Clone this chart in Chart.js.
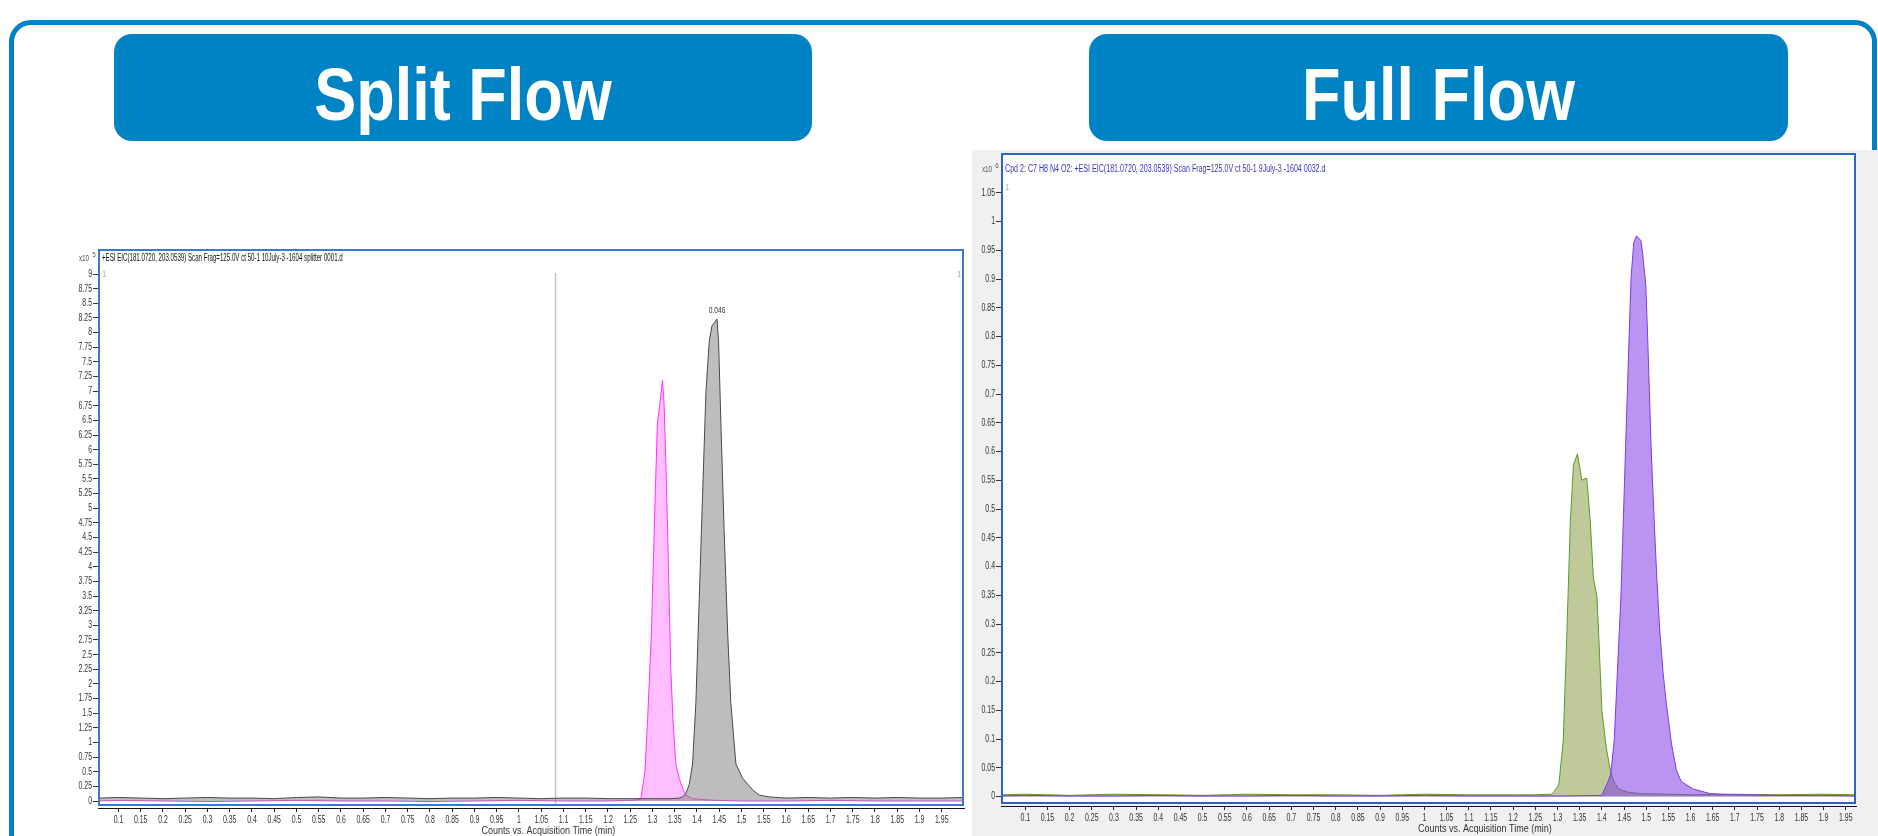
<!DOCTYPE html>
<html>
<head>
<meta charset="utf-8">
<script src="https://cdn.jsdelivr.net/npm/chart.js@4.4.1/dist/chart.umd.min.js"></script>
<style>
  html, body { margin: 0; padding: 0; background: #ffffff; }
  body { width: 1878px; height: 836px; position: relative; overflow: hidden;
         font-family: "Liberation Sans", Arial, sans-serif; }
  .outer { position: absolute; left: 9px; top: 20px; width: 1858px; height: 900px;
           border: 5px solid #0083c4; border-radius: 22px; }
  .hdr { position: absolute; top: 34px; height: 107px; background: #0083c4; border-radius: 18px; }
  .hdr span { position: absolute; left: 0; right: 0; top: 23px; line-height: 75px; font-size: 75px;
              font-weight: bold; color: #ffffff; text-align: center; transform: scaleX(0.84); }
  .panel { position: absolute; left: 972px; top: 150px; width: 906px; height: 686px; background: #f0f0f0; }
  canvas { position: absolute; }
</style>
</head>
<body>
<div class="outer"></div>
<div class="hdr" style="left:114px;width:698px;"><span>Split Flow</span></div>
<div class="hdr" style="left:1089px;width:699px;"><span>Full Flow</span></div>
<div class="panel"></div>
<canvas id="splitChart" width="930" height="596" style="left:40px;top:240px;"></canvas>
<canvas id="fullChart" width="916" height="692" style="left:946px;top:144px;"></canvas>
<script>
// ---- Acquisition time axis (min) ----
const timeTickLabels = ['0.1','0.15','0.2','0.25','0.3','0.35','0.4','0.45','0.5','0.55','0.6','0.65',
  '0.7','0.75','0.8','0.85','0.9','0.95','1','1.05','1.1','1.15','1.2','1.25','1.3','1.35','1.4','1.45',
  '1.5','1.55','1.6','1.65','1.7','1.75','1.8','1.85','1.9','1.95'];

// ---- Split flow run: counts x10^5 ----
const splitYTickLabels = ['0','0.25','0.5','0.75','1','1.25','1.5','1.75','2','2.25','2.5','2.75','3',
  '3.25','3.5','3.75','4','4.25','4.5','4.75','5','5.25','5.5','5.75','6','6.25','6.5','6.75','7','7.25',
  '7.5','7.75','8','8.25','8.5','8.75','9'];

const splitGrayTime = [0.054,0.1,0.15,0.2,0.25,0.3,0.35,0.4,0.45,0.5,0.55,0.6,0.65,0.7,0.75,0.8,0.85,0.9,
  0.95,1.0,1.05,1.1,1.15,1.2,1.25,1.3,1.34,1.36,1.3675,1.375,1.3825,1.39,1.3975,1.405,1.4125,1.42,1.4275,
  1.4335,1.445,1.4485,1.454,1.461,1.469,1.476,1.4875,1.5025,1.525,1.54,1.5625,1.6,1.65,1.7,1.75,1.8,1.85,
  1.9,1.95,2.0];
const splitGrayCounts = [0.05,0.06,0.05,0.04,0.05,0.06,0.05,0.05,0.04,0.06,0.07,0.05,0.05,0.06,0.05,0.04,
  0.05,0.05,0.06,0.05,0.04,0.05,0.05,0.04,0.04,0.04,0.04,0.05,0.07,0.13,0.28,0.63,1.68,3.44,5.21,6.97,7.85,
  8.11,8.23,7.85,6.38,4.62,2.86,1.68,0.63,0.39,0.19,0.10,0.07,0.05,0.06,0.05,0.06,0.05,0.06,0.05,0.05,0.06];

const splitPinkTime = [0.054,0.1,0.2,0.3,0.4,0.5,0.6,0.7,0.8,0.9,1.0,1.1,1.2,1.25,1.265,1.274,1.283,1.289,
  1.2975,1.306,1.311,1.3165,1.3225,1.326,1.33,1.334,1.3375,1.341,1.346,1.3525,1.36,1.3675,1.375,1.39,1.42,
  1.45,1.5,1.6,1.7,1.8,1.9,2.0];
const splitPinkCounts = [0.0,0.01,0.0,-0.01,0.0,0.01,0.0,0.0,-0.01,0.0,0.01,0.0,0.0,0.01,0.02,0.04,0.51,
  1.39,2.86,5.2,6.44,6.79,7.19,6.79,5.79,4.62,3.44,2.27,1.39,0.63,0.39,0.22,0.10,0.04,0.02,0.01,0.0,0.0,
  0.01,0.0,0.0,0.0];

const splitPeakLabel = '0.046';
const splitCursorTime = 1.08;
const splitTitle = '+ESI EIC(181.0720, 203.0539) Scan Frag=125.0V ct 50-1 10July-3 -1604 splitter 0001.d';

// ---- Full flow run: counts x10^6 ----
const fullYTickLabels = ['0','0.05','0.1','0.15','0.2','0.25','0.3','0.35','0.4','0.45','0.5','0.55',
  '0.6','0.65','0.7','0.75','0.8','0.85','0.9','0.95','1','1.05'];

const fullGreenTime = [0.045,0.1,0.2,0.3,0.4,0.5,0.6,0.7,0.8,0.9,1.0,1.1,1.2,1.25,1.288,1.303,1.313,1.321,
  1.329,1.336,1.345,1.355,1.366,1.374,1.381,1.389,1.393,1.4,1.41,1.419,1.427,1.438,1.461,1.492,1.545,1.6,
  1.7,1.8,1.9,1.973];
const fullGreenCounts = [0.003,0.004,0.002,0.004,0.003,0.002,0.004,0.003,0.003,0.002,0.004,0.003,0.003,
  0.003,0.004,0.02,0.098,0.28,0.478,0.577,0.596,0.55,0.554,0.478,0.38,0.347,0.28,0.151,0.085,0.046,0.026,
  0.013,0.007,0.005,0.004,0.003,0.004,0.003,0.004,0.003];

const fullPurpleTime = [0.045,0.1,0.2,0.3,0.4,0.5,0.6,0.7,0.8,0.9,1.0,1.1,1.2,1.3,1.4,1.414,1.42,1.428,
  1.435,1.443,1.451,1.459,1.466,1.472,1.478,1.488,1.492,1.499,1.503,1.507,1.511,1.518,1.524,1.53,1.538,
  1.545,1.557,1.568,1.579,1.606,1.644,1.7,1.8,1.9,1.973];
const fullPurpleCounts = [0.001,0.002,0.001,0.001,0.002,0.001,0.001,0.002,0.001,0.001,0.002,0.001,0.001,
  0.001,0.002,0.026,0.039,0.098,0.216,0.347,0.544,0.741,0.904,0.963,0.975,0.967,0.944,0.891,0.806,0.708,
  0.61,0.479,0.38,0.295,0.216,0.164,0.092,0.046,0.026,0.013,0.005,0.003,0.002,0.002,0.001];

const fullTitle = 'Cpd 2: C7 H8 N4 O2: +ESI EIC(181.0720, 203.0539) Scan Frag=125.0V ct 50-1 9July-3 -1604 0032.d';
const axisTitle = 'Counts vs. Acquisition Time (min)';

// ---- drawing helpers ----
const FONT = '"Liberation Sans", Arial, sans-serif';
function squeezeText(ctx, text, x, y, o) {
  o = o || {};
  ctx.save();
  ctx.font = (o.weight || '') + ' ' + (o.size || 10) + 'px ' + FONT;
  ctx.fillStyle = o.color || '#222';
  ctx.textAlign = o.align || 'left';
  ctx.textBaseline = o.baseline || 'middle';
  ctx.translate(x, y);
  ctx.scale(o.sx || 0.62, 1);
  ctx.fillText(text, 0, 0);
  ctx.restore();
}
function points(times, counts) { return times.map((t, i) => ({ x: t, y: counts[i] })); }

// Plot frame, axis labels and annotations in the instrument-software style
const chromatogramDecor = {
  id: 'chromatogramDecor',
  beforeDraw(chart, args, o) {
    const { ctx, chartArea: a } = chart;
    ctx.save();
    ctx.fillStyle = '#ffffff';
    ctx.fillRect(a.left, a.top, a.right - a.left, a.bottom - 3 - a.top);
    ctx.restore();
  },
  beforeDatasetsDraw(chart, args, o) {
    const { ctx, chartArea: a, scales } = chart;
    if (o.cursorTime != null) {
      const x = Math.round(scales.x.getPixelForValue(o.cursorTime)) + 0.5;
      ctx.save();
      ctx.strokeStyle = '#c4c4c4';
      ctx.lineWidth = 1.5;
      ctx.beginPath();
      ctx.moveTo(x, a.top + 24);
      ctx.lineTo(x, a.bottom - 3);
      ctx.stroke();
      ctx.restore();
    }
  },
  afterDraw(chart, args, o) {
    const { ctx, chartArea: a, scales } = chart;
    // frame
    ctx.save();
    ctx.strokeStyle = o.frameColor;
    ctx.lineWidth = 2;
    ctx.strokeRect(a.left + 1, a.top + 1, a.right - a.left - 2, a.bottom - 4 - a.top);
    ctx.restore();
    // y tick labels
    scales.y.ticks.forEach((t, i) => {
      squeezeText(ctx, o.yLabels[i], a.left - 6, scales.y.getPixelForValue(t.value),
        { align: 'right', color: '#333', size: 10.5, sx: 0.66 });
    });
    // x tick labels
    scales.x.ticks.forEach((t, i) => {
      squeezeText(ctx, timeTickLabels[i], scales.x.getPixelForValue(t.value), a.bottom + 12,
        { align: 'center', color: '#333', size: 10.5, sx: 0.66 });
    });
    // exponent
    squeezeText(ctx, 'x10', o.expX, o.titleY, { align: 'right', color: '#555', size: 9.5, sx: 0.66 });
    squeezeText(ctx, o.exponent, o.expX + 5, o.titleY - 3, { align: 'center', color: '#555', size: 8, sx: 0.8 });
    // title
    squeezeText(ctx, o.title, a.left + 4, o.titleY, { color: o.titleColor, sx: o.titleSx, size: 10 });
    // axis title
    squeezeText(ctx, axisTitle, a.left + o.axisTitleFrac * (a.right - a.left), a.bottom + 23,
      { align: 'center', color: '#333', size: 10, sx: 0.9 });
    // cursor markers
    o.markers.forEach(m => {
      squeezeText(ctx, '1', m[0] === 'l' ? a.left + 4 : a.right - 7, a.top + m[1], { color: '#aaa', size: 9.5, sx: 0.8 });
    });
    // peak label
    if (o.peakLabel) {
      const ds = chart.data.datasets[0].data;
      let best = ds[0];
      ds.forEach(p => { if (p.y > best.y) best = p; });
      squeezeText(ctx, o.peakLabel, scales.x.getPixelForValue(best.x), scales.y.getPixelForValue(best.y) - 9,
        { align: 'center', color: '#333', size: 9.5, sx: 0.7 });
    }
  }
};

function xScale(min, max, h) {
  return {
    type: 'linear', min: min, max: max,
    afterBuildTicks: s => { s.ticks = timeTickLabels.map(v => ({ value: parseFloat(v) })); },
    afterFit: s => { s.height = h; },
    ticks: { display: false, autoSkip: false },
    grid: { drawOnChartArea: false, drawTicks: true, tickLength: 4, color: '#222', lineWidth: 1 },
    border: { display: true, color: '#111', width: 1 }
  };
}
function yScale(min, max, labels, w) {
  return {
    type: 'linear', min: min, max: max,
    afterBuildTicks: s => { s.ticks = labels.map(v => ({ value: parseFloat(v) })); },
    afterFit: s => { s.width = w; },
    ticks: { display: false, autoSkip: false },
    grid: { drawOnChartArea: false, drawTicks: true, tickLength: 5, color: '#333', lineWidth: 1 },
    border: { display: false }
  };
}
function series(times, counts, line, fillColor) {
  return { data: points(times, counts), borderColor: line, backgroundColor: fillColor, fill: 'origin',
           borderWidth: 1, pointRadius: 0, tension: 0 };
}
const common = { responsive: false, animation: false, devicePixelRatio: 1, parsing: false };

new Chart(document.getElementById('splitChart'), {
  type: 'line',
  data: { datasets: [
    series(splitGrayTime, splitGrayCounts, '#4a4a4a', 'rgba(128,128,128,0.52)'),
    series(splitPinkTime, splitPinkCounts, '#ff33ff', 'rgba(255,120,255,0.48)')
  ] },
  options: Object.assign({}, common, {
    layout: { padding: { left: 0, right: 6, top: 9, bottom: 0 } },
    scales: { x: xScale(0.054, 2.0, 28), y: yScale(-0.1195, 9.427, splitYTickLabels, 58) },
    plugins: {
      legend: { display: false }, tooltip: { enabled: false },
      chromatogramDecor: {
        frameColor: '#3a78d6', yLabels: splitYTickLabels, exponent: '5', expX: 49, titleY: 18,
        title: splitTitle, titleColor: '#111', titleSx: 0.615, axisTitleFrac: 0.52,
        markers: [['l', 25], ['r', 25]], peakLabel: splitPeakLabel, cursorTime: splitCursorTime
      }
    }
  }),
  plugins: [chromatogramDecor]
});

new Chart(document.getElementById('fullChart'), {
  type: 'line',
  data: { datasets: [
    series(fullPurpleTime, fullPurpleCounts, '#7a3ce6', 'rgba(130,60,230,0.55)'),
    series(fullGreenTime, fullGreenCounts, '#5c9a2c', 'rgba(120,140,40,0.47)')
  ] },
  options: Object.assign({}, common, {
    layout: { padding: { left: 0, right: 6, top: 9, bottom: 0 } },
    scales: { x: xScale(0.0454, 1.973, 30), y: yScale(-0.0165, 1.1192, fullYTickLabels, 55) },
    plugins: {
      legend: { display: false }, tooltip: { enabled: false },
      chromatogramDecor: {
        frameColor: '#2f62c8', yLabels: fullYTickLabels, exponent: '6', expX: 46, titleY: 25,
        title: fullTitle, titleColor: '#3a34c8', titleSx: 0.71, axisTitleFrac: 0.566,
        markers: [['l', 34]], peakLabel: null, cursorTime: null
      }
    }
  }),
  plugins: [chromatogramDecor]
});
</script>
</body>
</html>
